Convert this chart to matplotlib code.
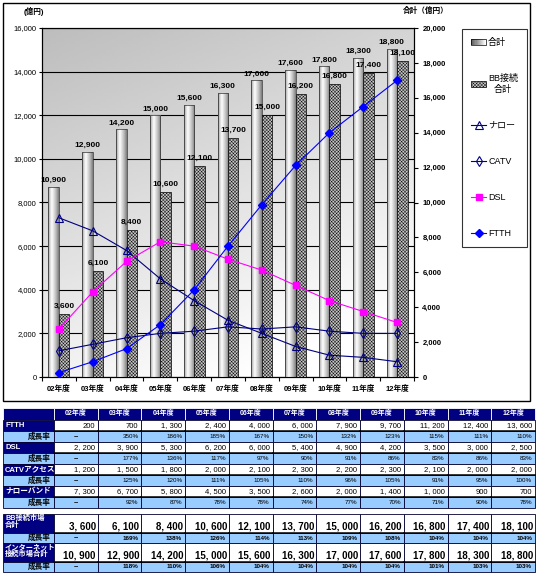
import numpy as np
import matplotlib
matplotlib.use('Agg')
import matplotlib.pyplot as plt
from matplotlib.patches import Rectangle
from matplotlib.lines import Line2D
from matplotlib.legend_handler import HandlerBase

plt.rcParams['font.family'] = ['Liberation Sans', 'Noto Sans CJK JP']
plt.rcParams['hatch.linewidth'] = 0.3

# ---------------- data ----------------
years = ['02年度', '03年度', '04年度', '05年度', '06年度', '07年度',
         '08年度', '09年度', '10年度', '11年度', '12年度']
ftth = [200, 700, 1300, 2400, 4000, 6000, 7900, 9700, 11200, 12400, 13600]
dsl = [2200, 3900, 5300, 6200, 6000, 5400, 4900, 4200, 3500, 3000, 2500]
catv = [1200, 1500, 1800, 2000, 2100, 2300, 2200, 2300, 2100, 2000, 2000]
narrow = [7300, 6700, 5800, 4500, 3500, 2600, 2000, 1400, 1000, 900, 700]
bb_total = [3600, 6100, 8400, 10600, 12100, 13700, 15000, 16200, 16800, 17400, 18100]
net_total = [10900, 12900, 14200, 15000, 15600, 16300, 17000, 17600, 17800, 18300, 18800]

ftth_gr = ['–', '350%', '186%', '185%', '167%', '150%', '132%', '123%', '115%', '111%', '110%']
dsl_gr = ['–', '177%', '136%', '117%', '97%', '90%', '91%', '86%', '83%', '86%', '83%']
catv_gr = ['–', '125%', '120%', '111%', '105%', '110%', '96%', '105%', '91%', '95%', '100%']
narrow_gr = ['–', '92%', '87%', '78%', '78%', '74%', '77%', '70%', '71%', '90%', '78%']
bb_gr = ['–', '169%', '138%', '126%', '114%', '113%', '109%', '108%', '104%', '104%', '104%']
net_gr = ['–', '118%', '110%', '106%', '104%', '104%', '104%', '104%', '101%', '103%', '103%']

left_ticks = list(range(0, 16001, 2000))
right_ticks = list(range(0, 20001, 2000))

# ---------------- figure ----------------
W, H = 538, 580
fig = plt.figure(figsize=(W / 100, H / 100), dpi=100)


def fx(px):
    return px / W


def fy(py):
    return 1 - py / H


navy = '#000080'
lblue = '#99CCFF'

# table / frame axes in pixel coordinates
axt = fig.add_axes([0, 0, 1, 1])
axt.set_xlim(0, W)
axt.set_ylim(H, 0)
axt.axis('off')
axt.add_patch(Rectangle((3, 3), 527, 398, fill=False, ec='black', lw=1.0))

# ---------------- chart ----------------
L, R, T, B = 42, 414, 28, 377
axg = fig.add_axes([fx(L), fy(B), (R - L) / W, (B - T) / H])
x = np.arange(len(years))

yy, xx = np.mgrid[0:1:120j, 0:1:120j]
bg = 0.74 + 0.26 * np.clip(0.8 * yy + 0.35 * xx, 0, 1)
axg.imshow(bg, extent=[-0.5, len(years) - 0.5, 0, 16000], aspect='auto',
           cmap='gray', vmin=0, vmax=1, zorder=0, interpolation='bilinear')
axg.set_xlim(-0.5, len(years) - 0.5)
axg.set_ylim(0, 16000)
axg.set_yticks(left_ticks)
axg.set_yticklabels([f'{v:,}' for v in left_ticks], fontsize=5.5)
axg.yaxis.grid(True, color='black', lw=0.8)
axg.set_axisbelow(True)
axg.set_xticks(np.arange(-0.5, len(years), 1.0))
axg.set_xticklabels([])
axg.set_xticks(x, minor=True)
axg.set_xticklabels(years, minor=True, fontsize=5.5, fontweight='bold')
axg.tick_params(axis='x', which='major', direction='out', length=3)
axg.tick_params(axis='x', which='minor', length=0, pad=6)
axg.tick_params(axis='y', direction='out', length=2, pad=2)
for s in axg.spines.values():
    s.set_color('black')
    s.set_linewidth(0.8)

# bars (right axis)
axb = axg.twinx()
axb.set_ylim(0, 20000)
axb.set_yticks(right_ticks)
axb.set_yticklabels([f'{v:,}' for v in right_ticks], fontsize=5.5, fontweight='bold')
axb.tick_params(axis='y', direction='out', length=3, pad=3)
for s in axb.spines.values():
    s.set_linewidth(0.8)

w = 0.31
b1 = axb.bar(x - w / 2, net_total, w, facecolor='none', edgecolor='#303030',
             lw=0.5, zorder=3)
t = np.linspace(0, 1, 64)
grad = np.interp(t, [0, 0.1, 0.35, 0.75, 1.0], [0.42, 0.75, 1.0, 0.72, 0.48])[None, :]
for r in b1:
    im = axb.imshow(grad, extent=[r.get_x(), r.get_x() + r.get_width(), 0, r.get_height()],
                    aspect='auto', cmap='gray', vmin=0, vmax=1, zorder=2,
                    interpolation='bilinear')
    im.set_clip_path(r)
bb_face = '#c4c4c4'
bb_hatch = 'xxxxxxxxxx'
b2 = axb.bar(x + w / 2, bb_total, w, facecolor=bb_face, edgecolor='black',
             hatch=bb_hatch, lw=0.5, zorder=3)
axb.bar_label(b1, labels=[f'{v:,}' for v in net_total], padding=2,
              fontsize=6, fontweight='bold')
axb.bar_label(b2, labels=[f'{v:,}' for v in bb_total], padding=3,
              fontsize=6, fontweight='bold')
axb.set_xlim(-0.5, len(years) - 0.5)
axb.set_ylim(0, 20000)

# lines (left axis scale)
axl = axg.twinx()
axl.set_ylim(0, 16000)
axl.yaxis.set_visible(False)
for s in axl.spines.values():
    s.set_visible(False)
ln_n, = axl.plot(x, narrow, color=navy, lw=0.8, marker='^', ms=6,
                 mfc='none', mec=navy, mew=0.8, label='ナロー')
ln_c, = axl.plot(x, catv, color=navy, lw=0.8, marker='d', ms=5.5,
                 mfc='none', mec=navy, mew=0.8, label='CATV')
ln_d, = axl.plot(x, dsl, color='#FF00FF', lw=0.8, marker='s', ms=5,
                 mfc='#FF00FF', mec='#FF00FF', label='DSL')
ln_f, = axl.plot(x, ftth, color='#0000FF', lw=0.8, marker='D', ms=4.5,
                 mfc='#0000FF', mec='#0000FF', label='FTTH')
axl.set_xlim(-0.5, len(years) - 0.5)
axl.set_ylim(0, 16000)


class GradHandler(HandlerBase):
    def create_artists(self, legend, orig, xd, yd, width, height, fontsize, trans):
        arts = []
        n = 14
        for k in range(n):
            g = 0.35 + 0.65 * k / (n - 1)
            arts.append(Rectangle((-xd + width * k / n, -yd), width / n + 0.3, height,
                                  fc=str(g), ec='none', transform=trans))
        arts.append(Rectangle((-xd, -yd), width, height, fc='none', ec='black',
                              lw=0.5, transform=trans))
        return arts


h_total = Rectangle((0, 0), 1, 1, fc='0.7', ec='black')
h_bb = Rectangle((0, 0), 1, 1, fc=bb_face, ec='black', hatch=bb_hatch, lw=0.5)
leg = fig.legend([h_total, h_bb, ln_n, ln_c, ln_d, ln_f],
                 ['合計', 'BB接続\n合計', 'ナロー', 'CATV', 'DSL', 'FTTH'],
                 handler_map={h_total: GradHandler()},
                 loc='upper left', bbox_to_anchor=(fx(462), fy(29)),
                 frameon=True, fancybox=False, edgecolor='black', fontsize=6.5,
                 labelspacing=3.0, handlelength=1.7, borderpad=1.0,
                 handletextpad=0.2, borderaxespad=0)
leg.get_frame().set_linewidth(0.8)
leg.get_texts()[1].set_multialignment('center')

fig.text(fx(24), fy(11), '(億円)', fontsize=5.5, fontweight='bold', va='center')
fig.text(fx(403), fy(11), '合計（億円）', fontsize=5.5, fontweight='bold', va='center')

# ---------------- table ----------------
c0x, c0w = 3, 51
cw = (535 - 54) / len(years)
ec = '#000030'

# header
axt.add_patch(Rectangle((c0x, 408), c0w, 12, fc=navy, ec='white', lw=0.6))
for i, yname in enumerate(years):
    cx = 54 + i * cw
    axt.add_patch(Rectangle((cx, 408), cw, 12, fc=navy, ec='white', lw=0.6))
    axt.text(cx + cw / 2, 414, yname, color='white', fontsize=5, fontweight='bold',
             ha='center', va='center')


def value_row(top, h, label, vals, big=False):
    axt.add_patch(Rectangle((c0x, top), c0w, h, fc=navy, ec=ec, lw=0.6))
    if big:
        axt.text(c0x + 2, top + 1, label, color='white', fontsize=5.2,
                 fontweight='bold', ha='left', va='top', linespacing=1.0)
    else:
        axt.text(c0x + 2, top + h / 2, label, color='white', fontsize=5.5,
                 fontweight='bold', ha='left', va='center')
    for i, v in enumerate(vals):
        cx = 54 + i * cw
        axt.add_patch(Rectangle((cx, top), cw, h, fc='white', ec=ec, lw=0.6))
        axt.plot([cx, cx + cw], [top + h, top + h], color='black', lw=1.1)
        s = f'{v:,}'.replace(',', ', ')
        if big:
            axt.text(cx + cw - 2, top + h - 1.5, s, fontsize=7, fontweight='bold',
                     ha='right', va='bottom')
        else:
            axt.text(cx + cw - 3, top + h / 2 + 0.5, s, fontsize=5.5,
                     ha='right', va='center')


def pct_row(top, h, gr, bold=False):
    axt.add_patch(Rectangle((c0x, top), c0w, h, fc=lblue, ec=ec, lw=0.6))
    axt.text(c0x + c0w - 3, top + h / 2, '成長率', fontsize=5.5, fontweight='bold',
             ha='right', va='center')
    for i, g in enumerate(gr):
        cx = 54 + i * cw
        axt.add_patch(Rectangle((cx, top), cw, h, fc=lblue, ec=ec, lw=0.6))
        if g == '–':
            axt.text(cx + cw / 2, top + h / 2, g, fontsize=5.5, ha='center', va='center',
                     fontweight='bold')
        else:
            axt.text(cx + cw - 3, top + h / 2, g, fontsize=4.5,
                     fontweight='bold' if bold else 'normal', ha='right', va='center')


value_row(420, 11, 'FTTH', ftth)
pct_row(431, 11, ftth_gr)
value_row(442, 11, 'DSL', dsl)
pct_row(453, 11, dsl_gr)
value_row(464, 11, 'CATVアクセス', catv)
pct_row(475, 11, catv_gr)
value_row(486, 11, 'ナローバンド', narrow)
pct_row(497, 11, narrow_gr)

value_row(514, 19, 'BB接続市場\n合計', bb_total, big=True)
pct_row(533, 10, bb_gr, bold=True)
value_row(543, 19, 'インターネット\n接続市場合計', net_total, big=True)
pct_row(562, 10, net_gr, bold=True)

fig.savefig('out.png', dpi=100)
